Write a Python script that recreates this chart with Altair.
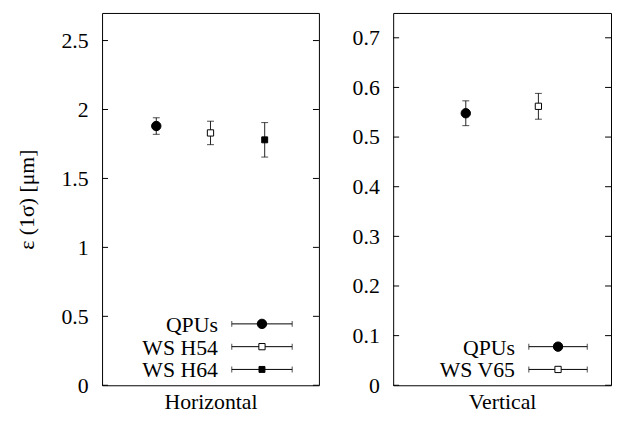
import altair as alt
import pandas as pd

# ---- data ----
h_labels = ["QPUs", "WS H54", "WS H64"]
h_vals = [1.88, 1.83, 1.78]
h_err = [0.06, 0.085, 0.125]
h_ticks = [0, 0.5, 1, 1.5, 2, 2.5]

v_labels = ["QPUs", "WS V65"]
v_vals = [0.548, 0.562]
v_err = [0.025, 0.026]
v_ticks = [0, 0.1, 0.2, 0.3, 0.4, 0.5, 0.6, 0.7]

# marker styles per series
styles = {
    "QPUs": dict(shape="circle", filled=True, size=90),
    "WS H54": dict(shape="square", filled=False, size=40),
    "WS H64": dict(shape="square", filled=True, size=36),
    "WS V65": dict(shape="square", filled=False, size=40),
}

FONT = "Liberation Serif"
FS = 22
H = 376


def panel(labels, vals, errs, ticks, xmax, ymax, W, title, ytitle, leg_rows, leg_text_x, leg_l, leg_r):
    xs = list(range(1, len(labels) + 1))
    df = pd.DataFrame({"label": labels, "x": xs, "y": vals,
                       "lo": [v - e for v, e in zip(vals, errs)],
                       "hi": [v + e for v, e in zip(vals, errs)]})
    xsc = alt.Scale(domain=[0, xmax], nice=False, zero=False)
    ysc = alt.Scale(domain=[0, ymax], nice=False, zero=True)
    xax = alt.Axis(labels=False, ticks=False, domain=False, grid=False, title=title,
                   titleFont=FONT, titleFontSize=FS, titleFontWeight="normal",
                   titlePadding=6, titleColor="black")
    ykw = dict(values=ticks, ticks=False, domain=False, grid=False, labelFont=FONT,
               labelFontSize=FS, labelColor="black", labelPadding=14, format="~g",
               labelFlush=False, labelOverlap=False)
    if ytitle:
        yax = alt.Axis(title=ytitle, titleFont=FONT, titleFontSize=FS,
                       titleFontWeight="normal", titleColor="black", titlePadding=23, **ykw)
    else:
        yax = alt.Axis(title=None, **ykw)

    base = alt.Chart(df)
    bars = base.mark_rule(color="#222", strokeWidth=1).encode(
        x=alt.X("x:Q", scale=xsc, axis=xax),
        y=alt.Y("lo:Q", scale=ysc, axis=yax),
        y2="hi:Q")
    cap_lo = base.mark_tick(color="black", orient="horizontal", size=7, thickness=1).encode(
        x=alt.X("x:Q", scale=xsc), y=alt.Y("lo:Q", scale=ysc))
    cap_hi = base.mark_tick(color="black", orient="horizontal", size=7, thickness=1).encode(
        x=alt.X("x:Q", scale=xsc), y=alt.Y("hi:Q", scale=ysc))

    layers = [bars, cap_lo, cap_hi]

    # inward ticks on both sides
    tdf = pd.DataFrame({"t": ticks})
    layers.append(alt.Chart(tdf).mark_rule(color="black", strokeWidth=1).encode(
        x=alt.value(0), x2=alt.value(6), y=alt.Y("t:Q", scale=ysc)))
    layers.append(alt.Chart(tdf).mark_rule(color="black", strokeWidth=1).encode(
        x=alt.value(W - 6), x2=alt.value(W), y=alt.Y("t:Q", scale=ysc)))

    # legend rows (positions converted from pixels into data units)
    px2x = lambda p: p / W * xmax
    px2y = lambda p: ymax * (1 - p / H)
    ldf = pd.DataFrame({
        "label": labels,
        "ly": [px2y(p) for p in leg_rows],
        "tx": [px2x(leg_text_x)] * len(labels),
        "l": [px2x(leg_l)] * len(labels),
        "r": [px2x(leg_r)] * len(labels),
        "m": [px2x((leg_l + leg_r) / 2)] * len(labels),
    })
    lb = alt.Chart(ldf)
    layers.append(lb.mark_text(align="right", baseline="middle", font=FONT, fontSize=FS,
                               color="black", dy=1).encode(
        x=alt.X("tx:Q", scale=xsc), y=alt.Y("ly:Q", scale=ysc), text="label:N"))
    layers.append(lb.mark_rule(color="black", strokeWidth=1).encode(
        x=alt.X("l:Q", scale=xsc), x2="r:Q", y=alt.Y("ly:Q", scale=ysc)))
    layers.append(lb.mark_tick(color="black", orient="vertical", size=6, thickness=1).encode(
        x=alt.X("l:Q", scale=xsc), y=alt.Y("ly:Q", scale=ysc)))
    layers.append(lb.mark_tick(color="black", orient="vertical", size=6, thickness=1).encode(
        x=alt.X("r:Q", scale=xsc), y=alt.Y("ly:Q", scale=ysc)))

    for lab in labels:
        st = styles[lab]
        fill = "black" if st["filled"] else "white"
        layers.append(alt.Chart(df[df.label == lab]).mark_point(
            shape=st["shape"], filled=True, fill=fill, stroke="black", strokeWidth=1,
            size=st["size"], opacity=1).encode(
            x=alt.X("x:Q", scale=xsc), y=alt.Y("y:Q", scale=ysc)))
        layers.append(alt.Chart(ldf[ldf.label == lab]).mark_point(
            shape=st["shape"], filled=True, fill=fill, stroke="black", strokeWidth=1,
            size=st["size"], opacity=1).encode(
            x=alt.X("m:Q", scale=xsc), y=alt.Y("ly:Q", scale=ysc)))

    return alt.layer(*layers).properties(width=W, height=H)


left = panel(h_labels, h_vals, h_err, h_ticks, 4, 2.7, 219, "Horizontal", "ε (1σ) [μm]",
             [314, 337, 360], 117, 131, 192)
right = panel(v_labels, v_vals, v_err, v_ticks, 3, 0.75, 220, "Vertical", None,
              [337, 360], 123, 137, 196)

chart = alt.hconcat(left, right, spacing=32).configure_view(
    stroke="black", strokeWidth=1
).properties(padding={"left": 7, "top": 2, "right": 0, "bottom": 0}, background="white")

chart.save("out.html", embed_options={"renderer": "svg", "actions": False})
